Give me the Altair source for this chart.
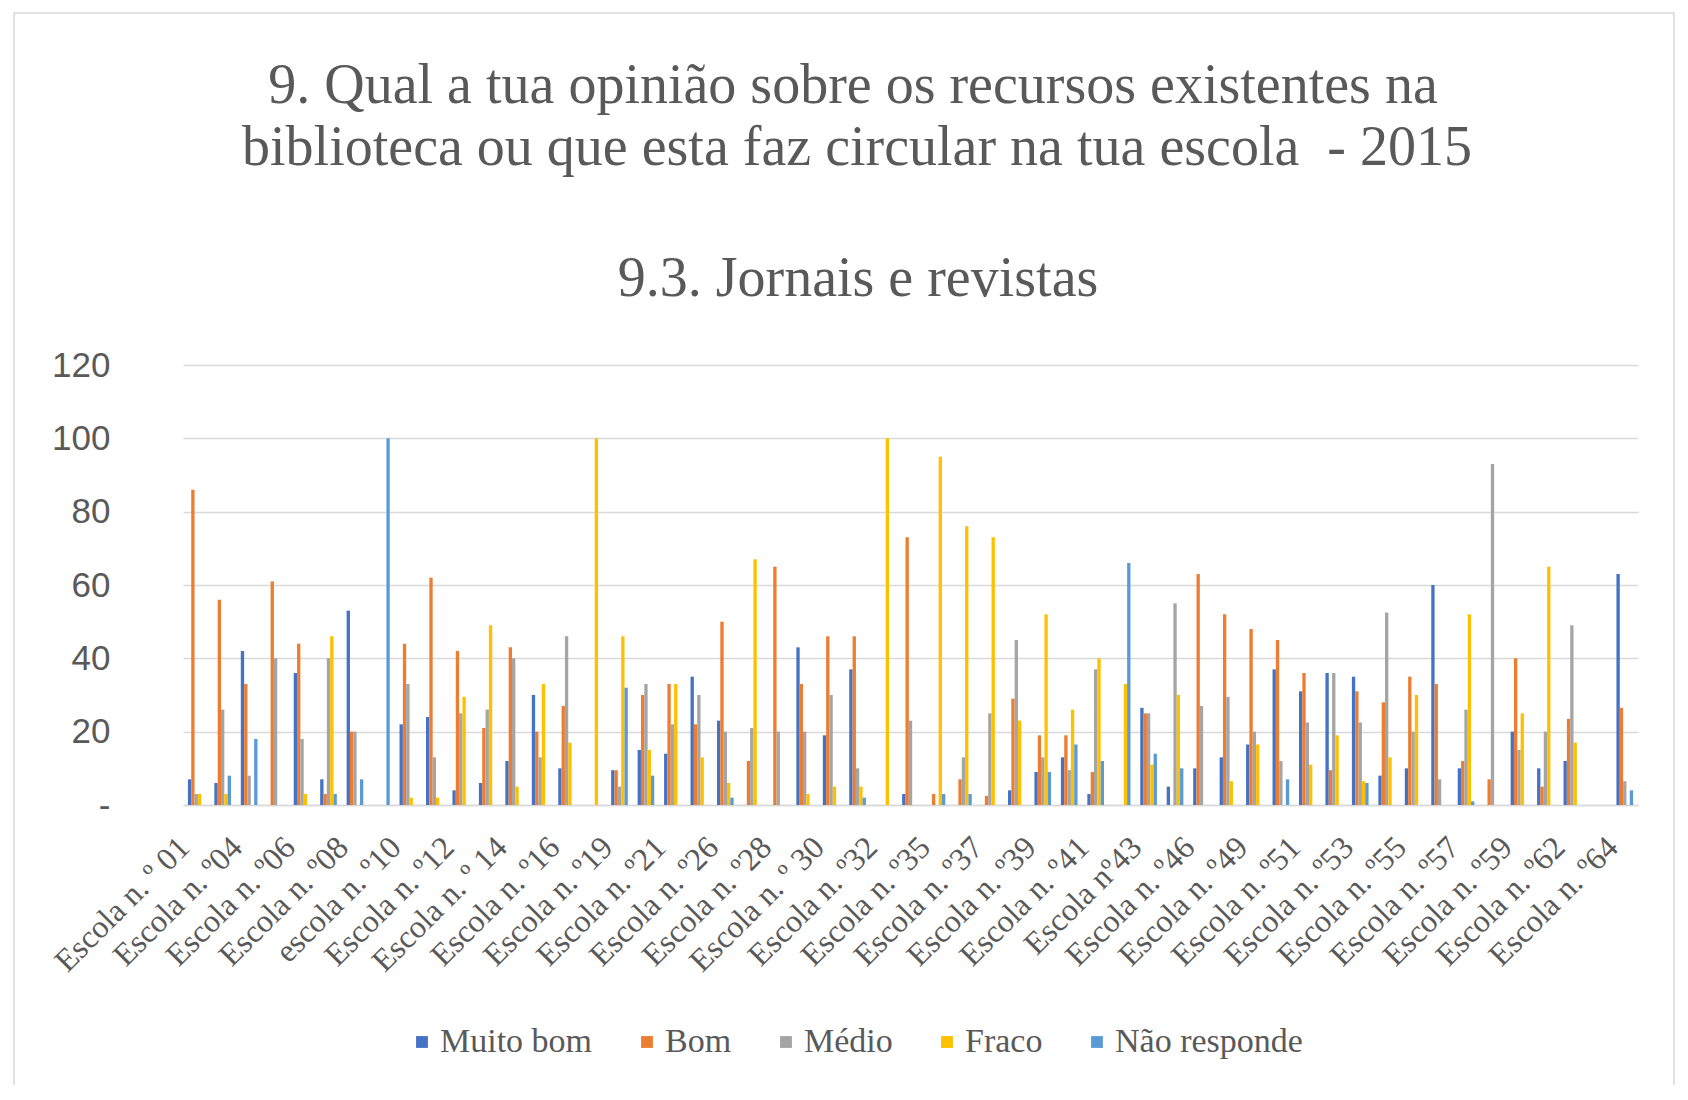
import altair as alt
import pandas as pd

schools = [
    "Escola n. º 01", "Escola n. º02", "Escola n. º04", "Escola n. º05", "Escola n. º06",
    "Escola n. º07", "Escola n. º08", "Escola n. º09", "escola n. º10", "Escola n. º11",
    "Escola n. º12", "Escola n. º13", "Escola n. º 14", "Escola n. º15", "Escola n. º16",
    "Escola n. º18", "Escola n. º19", "Escola n. º20", "Escola n. º21", "Escola n. º24",
    "Escola n. º26", "Escola n. º27", "Escola n. º28", "Escola n. º29", "Escola n. º 30",
    "Escola n. º31", "Escola n. º32", "Escola n. º34", "Escola n. º35", "Escola n. º36",
    "Escola n. º37", "Escola n. º38", "Escola n. º39", "Escola n. º40", "Escola n. º41",
    "Escola n. º42", "Escola nº43", "Escola n. º45", "Escola n. º46", "Escola n. º48",
    "Escola n. º49", "Escola n. º50", "Escola n. º51", "Escola n. º52", "Escola n. º53",
    "Escola n. º54", "Escola n. º55", "Escola n. º56", "Escola n. º57", "Escola n. º58",
    "Escola n. º59", "Escola n. º61", "Escola n. º62", "Escola n. º63", "Escola n. º64",
]
shown_labels = schools[::2]

series = ["Muito bom", "Bom", "Médio", "Fraco", "Não responde"]
colors = ["#4472C4", "#ED7D31", "#A5A5A5", "#FFC000", "#5B9BD5"]

title_lines = ["9. Qual a tua opinião sobre os recursos existentes na",
               "biblioteca ou que esta faz circular na tua escola \u00a0- 2015"]
subtitle_text = "9.3. Jornais e revistas"

muito_bom = [7, 6, 42, 0, 36, 7, 53, 0, 22, 24, 4, 6, 12, 30, 10, 0, 9.5, 15, 14, 35,
             23, 0, 0, 43, 19, 37, 0, 3, 0, 0, 0, 4, 9, 13, 3, 0, 26.5, 5, 10, 13,
             16.5, 37, 31, 36, 35, 8, 10, 60, 10, 0, 20, 10, 12, 0, 63]
bom = [86, 56, 33, 61, 44, 3, 20, 0, 44, 62, 42, 21, 43, 20, 27, 0, 9.5, 30, 33, 22,
       50, 12, 65, 33, 46, 46, 0, 73, 3, 7, 2.5, 29, 19, 19, 9, 0, 25, 0, 63, 52,
       48, 45, 36, 9.5, 31, 28, 35, 33, 12, 7, 40, 5, 23.5, 0, 26.5]
medio = [3, 26, 8, 40, 18, 40, 20, 0, 33, 13, 25, 26, 40, 13, 46, 0, 5, 33, 22, 30,
         20, 21, 20, 20, 30, 10, 0, 23, 0, 13, 25, 45, 13, 9.5, 37, 0, 25, 55, 27, 29.5,
         20, 12, 22.5, 36, 22.5, 52.5, 20, 7, 26, 93, 15, 20, 49, 0, 6.5]
fraco = [3, 3, 0, 0, 3, 46, 0, 0, 2, 2, 29.5, 49, 5, 33, 17, 100, 46, 15, 33, 13,
         6, 67, 0, 3, 5, 5, 100, 0, 95, 76, 73, 23, 52, 26, 40, 33, 11, 30, 0, 6.5,
         16.5, 0, 11, 19, 6.5, 13, 30, 0, 52, 0, 25, 65, 17, 0, 0]
nao_responde = [0, 8, 18, 0, 0, 3, 7, 100, 0, 0, 0, 0, 0, 0, 0, 0, 32, 8, 0, 0,
                2, 0, 0, 0, 0, 2, 0, 0, 3, 3, 0, 0, 9, 16.5, 12, 66, 14, 10, 0, 0,
                0, 7, 0, 0, 6, 0, 0, 0, 1, 0, 0, 0, 0, 0, 4]

values = [muito_bom, bom, medio, fraco, nao_responde]
rows = []
for s, vals in zip(series, values):
    for school, v in zip(schools, vals):
        rows.append({"Escola": school, "Serie": s, "Valor": v})
df = pd.DataFrame(rows)

W, H = 1455, 440
PL, PT = 175, 357
FONT_SERIF = "Liberation Serif"
GREY_TXT = "#595959"

bars = alt.Chart(df).mark_bar().encode(
    x=alt.X("Escola:N", sort=schools, title=None,
            scale=alt.Scale(paddingInner=0.37, paddingOuter=0.185),
            axis=alt.Axis(values=shown_labels, labelAngle=-45, labelAlign="right",
                          labelBaseline="bottom", labelPadding=49, ticks=False,
                          domainColor="#D9D9D9", domainWidth=1.5,
                          labelFont=FONT_SERIF, labelFontSize=32, labelColor=GREY_TXT,
                          labelOverlap=False, labelBound=False, labelFlush=False,
                          labelLimit=0)),
    xOffset=alt.XOffset("Serie:N", sort=series, scale=alt.Scale(paddingInner=0, paddingOuter=0)),
    y=alt.Y("Valor:Q", title=None,
            scale=alt.Scale(domain=[0, 120], nice=False),
            axis=alt.Axis(values=[0, 20, 40, 60, 80, 100, 120], domain=False, ticks=False,
                          labelExpr="datum.value == 0 ? '-' : datum.label",
                          labelFont="Liberation Sans", labelFontSize=35, labelColor=GREY_TXT,
                          labelPadding=73, gridColor="#D9D9D9", gridWidth=1.5)),
    color=alt.Color("Serie:N", sort=series,
                    scale=alt.Scale(domain=series, range=colors),
                    legend=alt.Legend(title=None, orient="none", direction="horizontal",
                                      legendX=222, legendY=660, columnPadding=37,
                                      symbolType="square", symbolSize=140, symbolStrokeWidth=0,
                                      labelFont=FONT_SERIF, labelFontSize=34, labelColor=GREY_TXT,
                                      labelOffset=1, labelLimit=0)),
)

frame_df = pd.DataFrame({"f": [0]})
frame = alt.Chart(frame_df).mark_rect(fill="transparent", stroke="#D9D9D9", strokeWidth=1.5).encode(
    x=alt.value(-169), x2=alt.value(1491), y=alt.value(-352), y2=alt.value(732)
)

title_style = dict(font=FONT_SERIF, fontSize=56, color=GREY_TXT, align="center",
                   baseline="alphabetic")
t1 = alt.Chart(frame_df).mark_text(text=title_lines[0], **title_style).encode(
    x=alt.value(670), y=alt.value(-262))
t2 = alt.Chart(frame_df).mark_text(text=title_lines[1], **title_style).encode(
    x=alt.value(674), y=alt.value(-200))
t3 = alt.Chart(frame_df).mark_text(text=subtitle_text, **title_style).encode(
    x=alt.value(675), y=alt.value(-69))

chart = alt.layer(frame, bars, t1, t2, t3).properties(
    width=W, height=H,
    padding={"left": PL, "top": PT, "right": 40, "bottom": 280},
    autosize=alt.AutoSizeParams(type="none"),
).configure_view(stroke=None)

chart.save("out.html", embed_options={"renderer": "svg", "actions": False})
